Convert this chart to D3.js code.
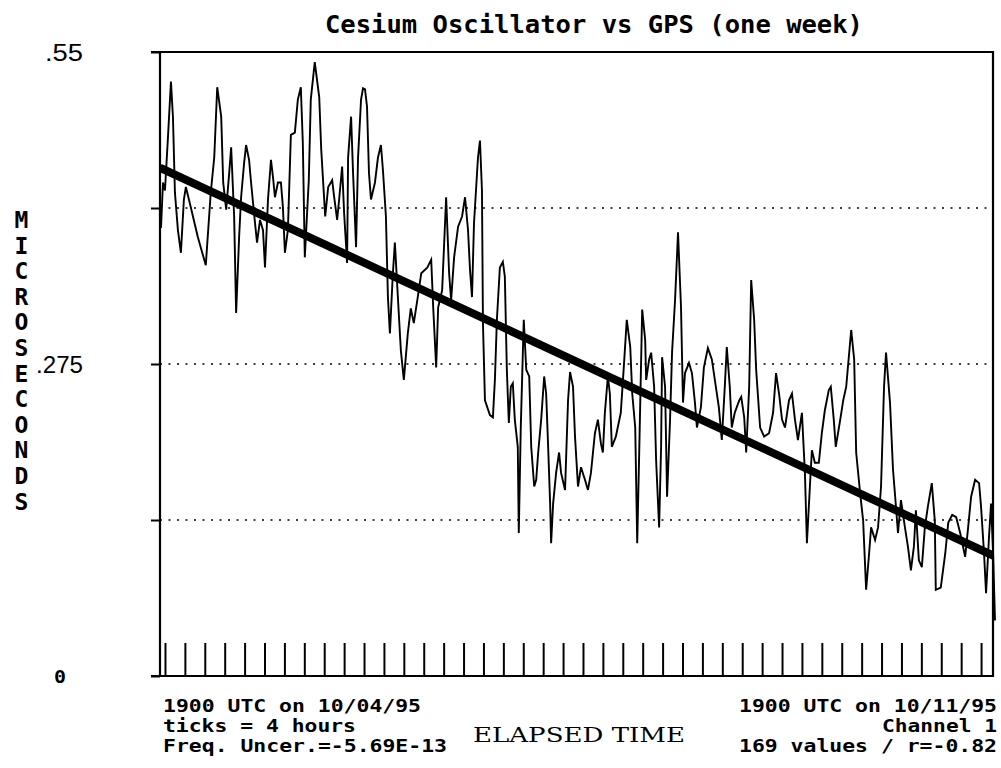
<!DOCTYPE html>
<html>
<head>
<meta charset="utf-8">
<script src="https://cdn.jsdelivr.net/npm/d3@7"></script>
<style>
  body { margin: 0; background: #fff; }
  svg { display: block; background: #fff; }
  .mono { font-family: "DejaVu Sans Mono", monospace; font-weight: bold; fill: #000; }
</style>
</head>
<body>
<svg id="chart" width="1001" height="768"></svg>
<script>
// [hours since 1900 UTC 10/04/95, offset in microseconds]
const readings = [
  [0.2,.395],[0.6,.435],[1.0,.428],[1.6,.475],[2.2,.524],[2.6,.493],[3.0,.426],[3.6,.393],[4.2,.373],[4.8,.420],
  [5.2,.431],[6.2,.413],[7.6,.387],[9.2,.362],[10.2,.426],[10.9,.457],[11.5,.519],[12.3,.493],[12.7,.435],[13.3,.411],
  [13.9,.443],[14.3,.466],[14.9,.405],[15.3,.320],[15.9,.387],[16.3,.422],[16.9,.452],[17.3,.468],[17.9,.455],[18.3,.435],
  [19.1,.399],[19.5,.382],[20.1,.402],[20.7,.393],[21.1,.360],[21.7,.420],[22.3,.455],[22.7,.440],[23.1,.422],[23.7,.435],
  [24.3,.435],[24.7,.413],[25.1,.373],[25.7,.393],[26.3,.477],[27.1,.479],[27.7,.508],[28.3,.519],[28.7,.470],[29.1,.369],
  [29.9,.437],[30.3,.508],[31.1,.541],[32.0,.510],[32.4,.464],[33.2,.405],[33.8,.431],[34.6,.437],[35.0,.422],[35.6,.402],
  [36.0,.420],[36.6,.449],[37.0,.408],[37.6,.364],[37.8,.457],[38.4,.493],[38.8,.443],[39.4,.378],[39.8,.457],[40.4,.508],
  [40.8,.518],[41.2,.517],[41.6,.502],[42.0,.443],[42.4,.420],[43.2,.435],[43.8,.457],[44.4,.468],[44.8,.446],[45.4,.405],
  [45.8,.334],[46.2,.302],[46.8,.355],[47.2,.382],[47.8,.334],[48.4,.287],[49.0,.261],[49.8,.302],[50.4,.324],[51.0,.311],
  [51.8,.334],[52.5,.355],[53.7,.360],[54.5,.367],[54.9,.325],[55.5,.272],[55.9,.325],[56.7,.340],[57.5,.422],[58.1,.355],
  [58.5,.331],[59.1,.369],[59.9,.396],[60.7,.405],[61.3,.422],[61.9,.393],[62.3,.358],[62.7,.334],[63.1,.399],[63.9,.457],
  [64.3,.472],[64.7,.428],[64.9,.311],[65.3,.243],[66.3,.230],[66.9,.228],[67.3,.261],[67.7,.314],[68.3,.360],[68.9,.365],
  [69.3,.352],[69.7,.270],[70.1,.223],[70.5,.255],[70.9,.258],[71.3,.226],[71.9,.202],[72.1,.126],[72.5,.219],[73.1,.314],
  [73.6,.270],[74.2,.264],[74.6,.202],[75.2,.167],[75.6,.173],[76.0,.197],[76.6,.226],[77.2,.264],[77.6,.249],[78.0,.202],
  [78.4,.152],[78.6,.117],[79.0,.152],[79.6,.179],[80.2,.197],[80.6,.179],[81.4,.164],[82.0,.243],[82.4,.268],[83.0,.255],
  [83.4,.211],[84.0,.167],[84.6,.184],[85.4,.173],[86.0,.164],[86.6,.179],[87.4,.214],[88.0,.226],[88.6,.205],[89.0,.197],
  [89.4,.232],[90.0,.264],[90.4,.249],[90.8,.202],[91.6,.211],[92.6,.232],[93.2,.272],[93.8,.314],[94.5,.290],[94.9,.249],
  [95.5,.219],[95.9,.117],[96.3,.197],[96.9,.323],[97.5,.296],[97.7,.261],[98.3,.279],[98.7,.285],[99.3,.255],[99.7,.190],
  [100.3,.131],[100.7,.202],[100.9,.281],[101.5,.255],[101.9,.158],[102.5,.226],[102.9,.285],[103.5,.331],[104.1,.391],[104.7,.325],
  [105.1,.241],[105.5,.267],[106.3,.276],[106.9,.267],[107.5,.241],[107.9,.219],[108.7,.237],[109.3,.272],[110.1,.289],[110.9,.279],
  [111.5,.261],[112.3,.237],[112.9,.208],[113.5,.255],[113.9,.290],[114.5,.255],[114.9,.219],[115.5,.232],[116.4,.243],[116.8,.246],
  [117.4,.228],[117.8,.197],[118.4,.255],[118.8,.349],[119.4,.314],[119.8,.270],[120.6,.219],[121.4,.211],[122.4,.214],[123.2,.232],
  [123.8,.267],[124.4,.249],[125.0,.226],[125.6,.219],[126.4,.243],[127.0,.249],[127.6,.226],[128.2,.208],[129.0,.232],[129.6,.179],
  [130.0,.117],[130.6,.167],[131.0,.199],[131.6,.188],[132.4,.188],[133.0,.214],[133.6,.234],[134.4,.252],[134.8,.255],[135.4,.226],
  [135.8,.202],[136.7,.226],[137.3,.243],[137.9,.255],[138.5,.285],[138.9,.305],[139.5,.279],[139.9,.197],[140.7,.161],[141.3,.137],
  [141.9,.076],[142.5,.108],[142.9,.131],[143.7,.120],[144.3,.131],[144.9,.167],[145.5,.255],[145.9,.285],[146.7,.241],[147.3,.182],
  [147.9,.149],[148.3,.126],[148.9,.155],[149.7,.131],[150.3,.114],[150.9,.093],[151.5,.114],[151.9,.146],[152.5,.102],[153.1,.096],
  [153.7,.131],[154.3,.149],[155.1,.170],[155.7,.137],[155.9,.076],[156.9,.078],[157.8,.108],[158.4,.135],[159.2,.142],[160.0,.140],
  [160.8,.126],[161.8,.105],[162.4,.131],[163.0,.158],[163.8,.173],[164.6,.170],[165.0,.149],[165.6,.108],[166.0,.073],[166.6,.123],
  [167.0,.152],[167.4,.111],[167.8,.049]
];

// regression line end points (hour, microseconds)
const fitEnds = [[0, 0.448], [168, 0.105]];

const yTicks = [0, 0.1375, 0.275, 0.4125, 0.55];
const gridValues = [0.1375, 0.275, 0.4125];
const yLabelValues = [0.55, 0.275];
const yLabelTexts = [".55", ".275"];
const tickHours = d3.range(1, 168, 4); // 4 hour ticks, on the clock hour

const title = "Cesium Oscillator vs GPS (one week)";
const yTitle = "MICROSECONDS";
const xTitle = "ELAPSED TIME";
const notesLeft = ["1900 UTC on 10/04/95", "ticks = 4 hours", "Freq. Uncer.=-5.69E-13"];
const notesRight = ["1900 UTC on 10/11/95", "Channel 1", "169 values / r=-0.82"];

const svg = d3.select("#chart");
const left = 160, right = 993;

const x = d3.scaleLinear().domain([0, 168]).range([160, 996]);
const y = d3.scaleLinear().domain([0, 0.55]).range([676, 52]);

svg.append("defs").append("clipPath").attr("id", "plot")
  .append("rect")
  .attr("x", left).attr("y", y(0.55))
  .attr("width", right - left).attr("height", y(0) - y(0.55));

// dotted grid
svg.append("g")
  .selectAll("line")
  .data(gridValues)
  .join("line")
  .attr("x1", left).attr("x2", right)
  .attr("y1", (d) => y(d)).attr("y2", (d) => y(d))
  .attr("stroke", "#000")
  .attr("stroke-width", 1.6)
  .attr("stroke-dasharray", "2,6.5");

// y axis stubs
const yAxis = svg.append("g")
  .attr("transform", `translate(${left},0)`)
  .call(d3.axisLeft(y).tickValues(yTicks).tickSize(9).tickFormat(""));
yAxis.select(".domain").remove();
yAxis.selectAll("line").attr("stroke-width", 2);

// time ticks
const xAxis = svg.append("g")
  .attr("transform", `translate(0,${y(0)})`)
  .call(d3.axisBottom(x).tickValues(tickHours).tickSize(-33).tickSizeOuter(0).tickFormat(""));
xAxis.select(".domain").remove();
xAxis.selectAll("line").attr("stroke-width", 2);

// frame
svg.append("path")
  .attr("d", `M${left - 9},${y(0.55)}H${right}V${y(0)}H${left - 9}M${left},${y(0.55)}V${y(0)}`)
  .attr("fill", "none")
  .attr("stroke", "#000")
  .attr("stroke-width", 2.2);

// measured trace
svg.append("path")
  .datum(readings)
  .attr("fill", "none")
  .attr("stroke", "#000")
  .attr("stroke-width", 1.9)
  .attr("stroke-linejoin", "miter")
  .attr("d", d3.line().x((d) => x(d[0])).y((d) => y(d[1])));

// least squares line
svg.append("path")
  .datum(fitEnds)
  .attr("clip-path", "url(#plot)")
  .attr("fill", "none")
  .attr("stroke", "#000")
  .attr("stroke-width", 8)
  .attr("d", d3.line().x((d) => x(d[0])).y((d) => y(d[1])));

// title
svg.append("text")
  .attr("class", "mono")
  .attr("x", 325).attr("y", 33)
  .attr("font-size", 24)
  .attr("textLength", 538)
  .attr("lengthAdjust", "spacingAndGlyphs")
  .text(title);

// y labels
svg.append("g")
  .selectAll("text")
  .data(yLabelValues)
  .join("text")
  .attr("x", 83)
  .attr("y", (d) => y(d) + 8.5)
  .attr("text-anchor", "end")
  .attr("font-family", "'Liberation Sans', Arial, sans-serif")
  .attr("font-size", 24)
  .attr("textLength", (d, i) => (i === 0 ? 38 : 47))
  .attr("lengthAdjust", "spacingAndGlyphs")
  .text((d, i) => yLabelTexts[i]);

svg.append("text")
  .attr("class", "mono")
  .attr("x", 54).attr("y", y(0) + 7)
  .attr("font-size", 17)
  .attr("textLength", 12)
  .attr("lengthAdjust", "spacingAndGlyphs")
  .text("0");

// stacked y title
svg.append("g")
  .selectAll("text")
  .data(yTitle.split(""))
  .join("text")
  .attr("class", "mono")
  .attr("x", 21.5)
  .attr("y", (d, i) => 228 + i * 25.6)
  .attr("text-anchor", "middle")
  .attr("font-size", 23)
  .text((d) => d);

// footnotes
const noteSize = 17, charW = 13;
svg.append("g")
  .selectAll("text")
  .data(notesLeft)
  .join("text")
  .attr("class", "mono")
  .attr("x", 163)
  .attr("y", (d, i) => 712 + i * 20)
  .attr("font-size", noteSize)
  .attr("textLength", (d) => d.length * charW - 2)
  .attr("lengthAdjust", "spacingAndGlyphs")
  .text((d) => d);

svg.append("g")
  .selectAll("text")
  .data(notesRight)
  .join("text")
  .attr("class", "mono")
  .attr("x", (d) => 997 - (d.length * charW - 2))
  .attr("y", (d, i) => 712 + i * 20)
  .attr("font-size", noteSize)
  .attr("textLength", (d) => d.length * charW - 2)
  .attr("lengthAdjust", "spacingAndGlyphs")
  .text((d) => d);

svg.append("text")
  .attr("x", 473).attr("y", 742)
  .attr("font-family", "'DejaVu Serif', serif")
  .attr("font-size", 21)
  .attr("textLength", 212)
  .attr("lengthAdjust", "spacingAndGlyphs")
  .text(xTitle);
</script>
</body>
</html>
